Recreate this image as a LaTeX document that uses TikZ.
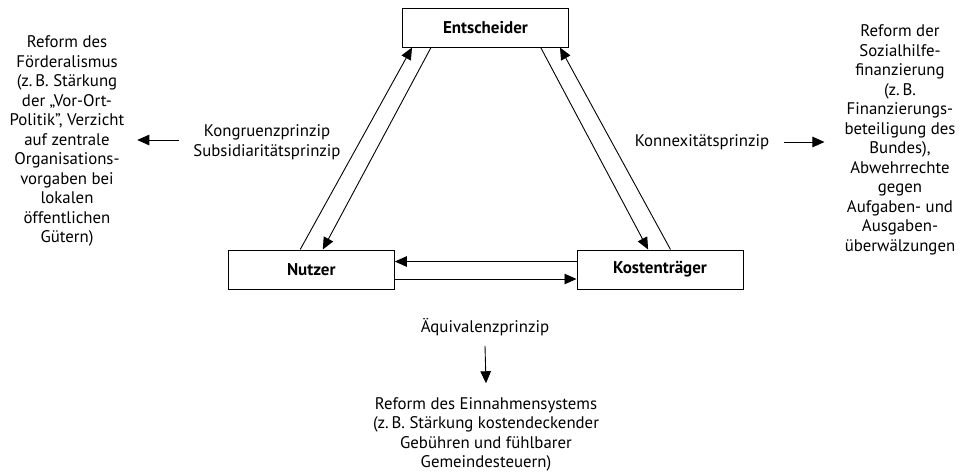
\documentclass[tikz,border=0pt]{standalone}
\usepackage{fontspec}
\setmainfont{PT Sans}
\usetikzlibrary{arrows.meta,calc}
\begin{document}
\begin{tikzpicture}[x=1pt,y=-1pt,
  box/.style={draw,line width=1pt,minimum width=166pt,minimum height=39pt,inner sep=0pt,font=\fontsize{17}{20}\selectfont\bfseries},
  txt/.style={align=center,inner sep=0pt,font=\fontsize{16.8}{19.5}\selectfont},
  arr/.style={line width=0.9pt,-{Triangle[length=12pt,width=10.5pt]}}]
\useasboundingbox (0,0) rectangle (966,475);
% boxes
\node[box] (ent) at (485.5,27.5) {Entscheider};
\node[box] (nut) at (311.3,269.5) {Nutzer};
\node[box] (kos) at (660,269.5) {Kostenträger};
% triangle connectors
\draw[arr] ($(nut.north west)+(72.4,0)$) -- ($(ent.south west)+(10,0)$);
\draw[arr] ($(ent.south west)+(29,0)$) -- ($(nut.north west)+(95,0)$);
\draw[arr] ($(ent.south east)+(-28.3,0)$) -- ($(kos.north west)+(71.6,0)$);
\draw[arr] ($(kos.north west)+(94,0)$) -- ($(ent.south east)+(-9,0)$);
\draw[arr] ($(kos.west)+(0,-8)$) -- ($(nut.east)+(0,-8)$);
\draw[arr] ($(nut.east)+(0,9.5)$) -- ($(kos.west)+(0,9.5)$);
% labels
\node[txt] (kong) at (267,142) {Kongruenzprinzip\\Subsidiaritätsprinzip};
\node[txt] (konn) at (702,142) {Konnexitätsprinzip};
\node[txt] (aeq) at (485,327) {Äquivalenzprinzip};
% outcome texts
\node[txt] (left) at (67,141) {Reform des\\Förderalismus\\(z.\,B. Stärkung\\der „Vor-Ort-\\Politik”, Verzicht\\auf zentrale\\Organisations-\\vorgaben bei\\lokalen\\öffentlichen\\Gütern)};
\node[txt] (right) at (900,140) {Reform der\\Sozialhilfe-\\finanzierung\\(z.\,B.\\Finanzierungs-\\beteiligung des\\Bundes),\\Abwehrrechte\\gegen\\Aufgaben- und\\Ausgaben-\\überwälzungen};
\node[txt] (bot) at (486,434.5) {Reform des Einnahmensystems\\(z.\,B. Stärkung kostendeckender\\Gebühren und fühlbarer\\Gemeindesteuern)};
% outcome arrows
\draw[arr] ($(kong.west)+(-14,-2)$) -- ($(kong.west)+(-56,-2)$);
\draw[arr] ($(konn.east)+(15,0)$) -- ($(konn.east)+(55,0)$);
\draw[arr] ($(aeq.south)+(0,10)$) -- ($(bot.north)+(0,-14)$);
\end{tikzpicture}
\end{document}
